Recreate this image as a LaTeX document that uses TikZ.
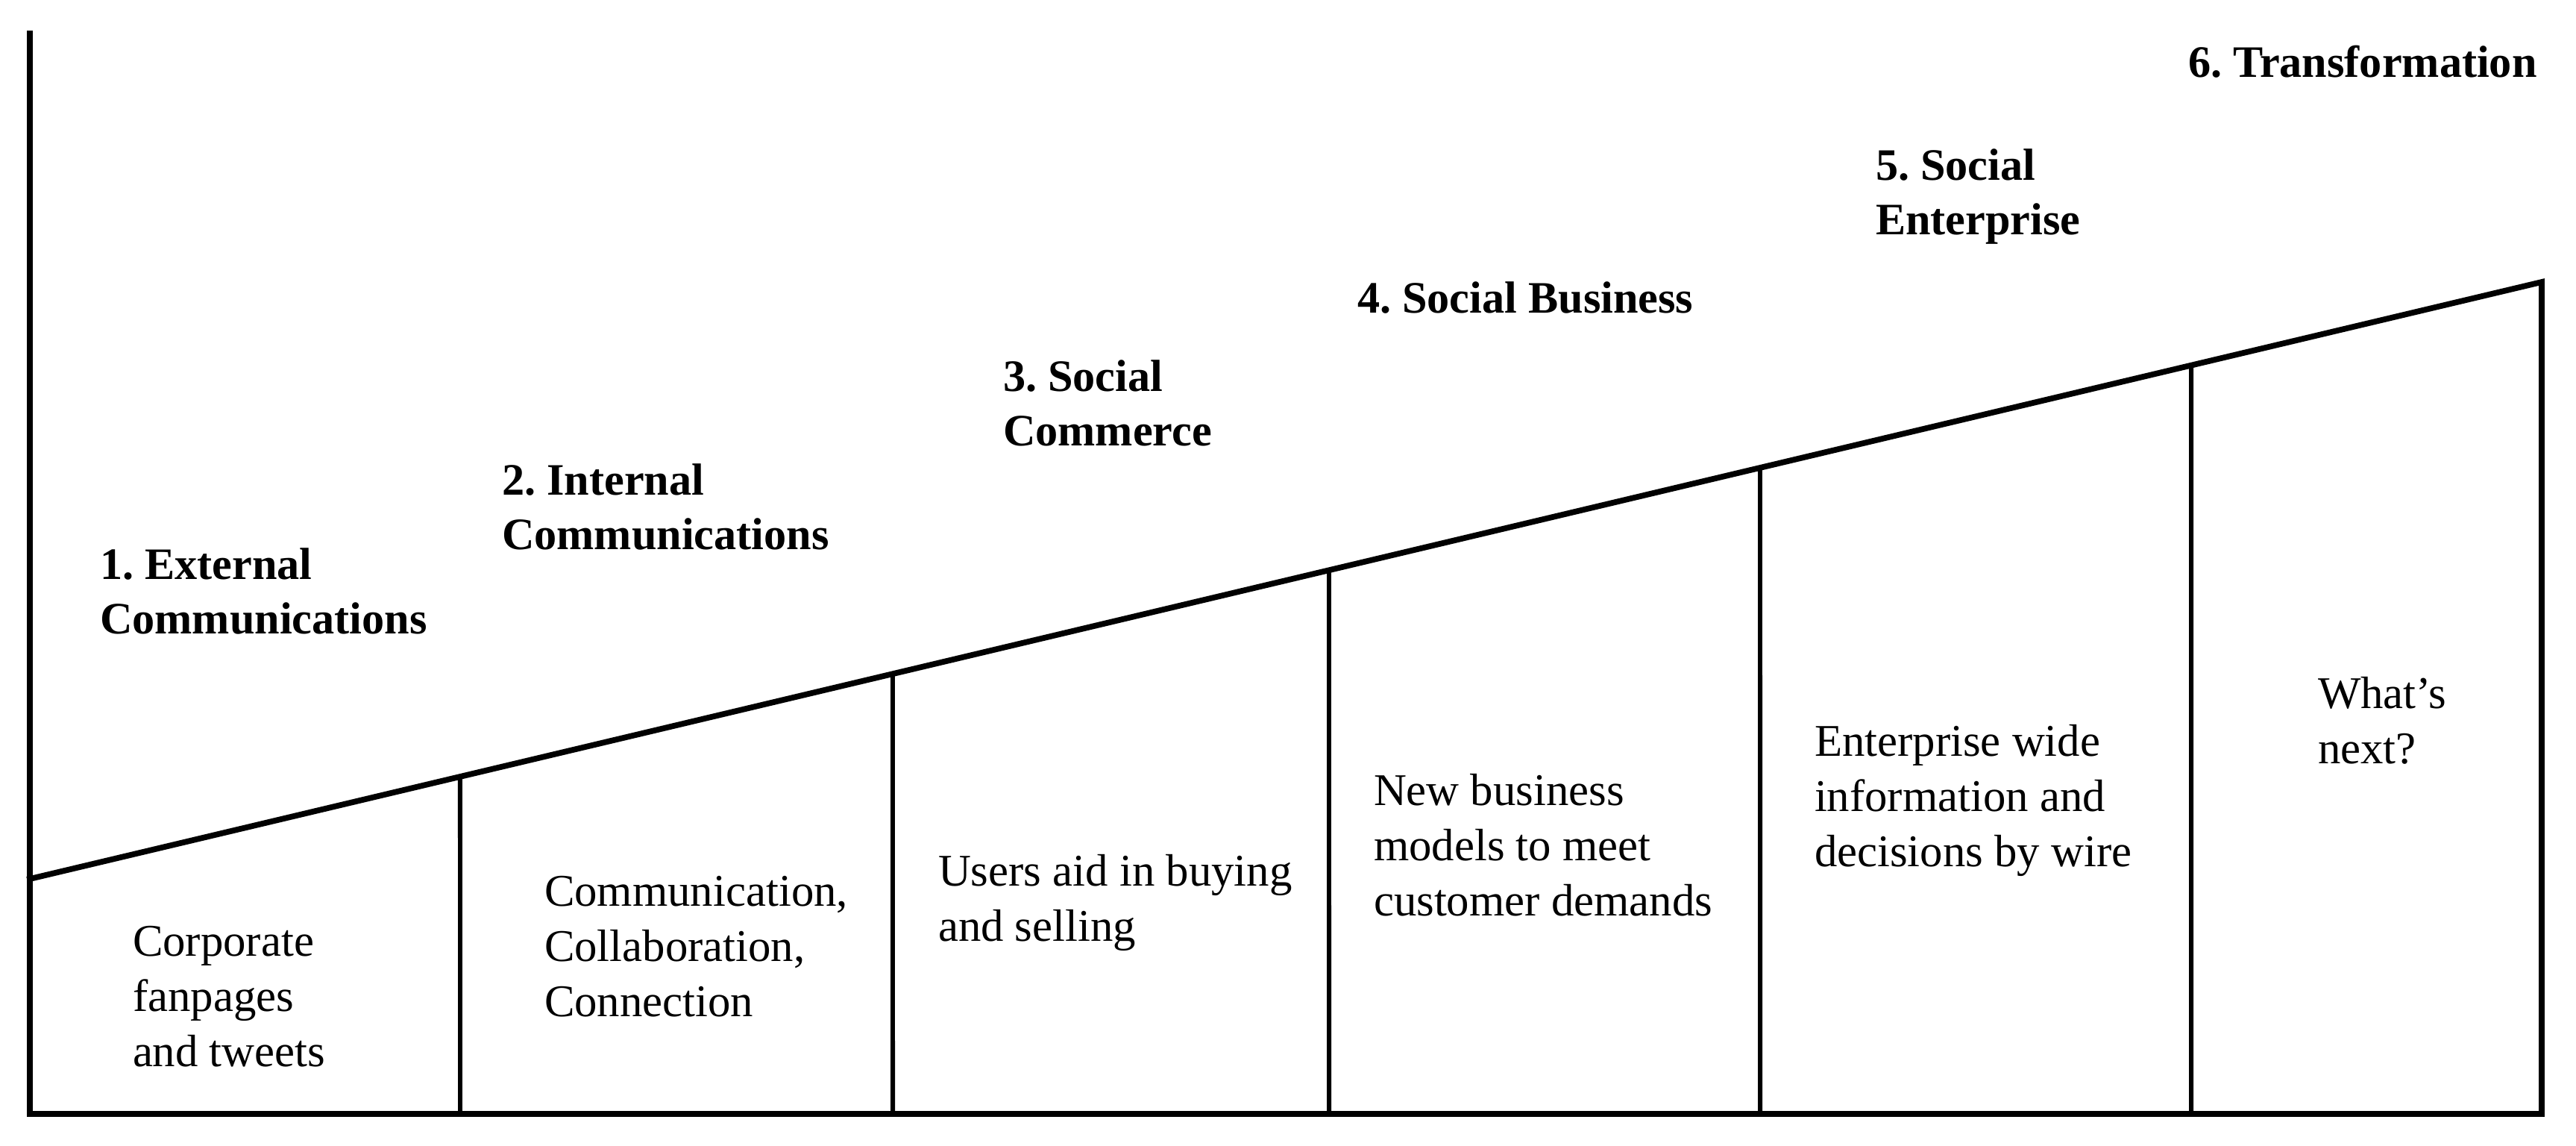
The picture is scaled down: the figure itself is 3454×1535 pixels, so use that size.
\documentclass[tikz,border=0pt]{standalone}
\usepackage{fontspec}
\setmainfont{Liberation Serif}
\usetikzlibrary{calc}
\frenchspacing
\tikzset{
  frame/.style={line width=4.4pt, line cap=rect, line join=miter},
  divider/.style={line width=3.4pt},
  head/.style={anchor=base west, inner sep=0pt, outer sep=0pt, align=left,
     font=\fontsize{34.3}{41.5}\selectfont\bfseries\frenchspacing},
  body/.style={anchor=base west, inner sep=0pt, outer sep=0pt, align=left,
     font=\fontsize{34.6}{42}\selectfont\frenchspacing},
}
\begin{document}
\begin{tikzpicture}[x=0.02cm, y=-0.02cm]
\useasboundingbox (0,0) rectangle (3454,1535);
% frame
\coordinate (tl) at (40,45);
\coordinate (bl) at (40,1493);
\coordinate (br) at (3408,1493);
\coordinate (tr) at (3408,378);
\coordinate (dl) at (40,1178);
\draw[frame] (tl) -- (bl) -- (br) -- (tr) -- (dl);
% dividers
\foreach \x [count=\i] in {617,1197,1782,2360,2938} {
  \pgfmathsetmacro{\t}{(\x-40)/3368}
  \coordinate (d\i t) at ($(dl)!\t!(tr)$);
  \coordinate (d\i b) at (\x,1493);
  \draw[divider] (d\i t) -- (d\i b);
}
% headings (anchor = baseline of last line)
\node[head] (h1) at (134,849) {1. External\\Communications};
\node[head] (h2) at (673,736) {2. Internal\\Communications};
\node[head] (h3) at (1345,597) {3. Social\\Commerce};
\node[head] (h4) at (1820,419) {4. Social Business};
\node[head] (h5) at (2515,314) {5. Social\\Enterprise};
\node[head] (h6) at (2934,103) {6. Transformation};
% bodies (anchor = baseline of last line)
\node[body] (b1) at (178,1429) {Corporate\\fanpages\\and tweets};
\node[body] (b2) at (730,1362) {Communication,\\Collaboration,\\Connection};
\node[body] (b3) at (1258,1261) {Users aid in buying\\and selling};
\node[body] (b4) at (1842,1227) {New business\\models to meet\\customer demands};
\node[body] (b5) at (2433,1161) {Enterprise wide\\information and\\decisions by wire};
\node[body] (b6) at (3108,1023) {What’s\\next?};
\end{tikzpicture}
\end{document}
